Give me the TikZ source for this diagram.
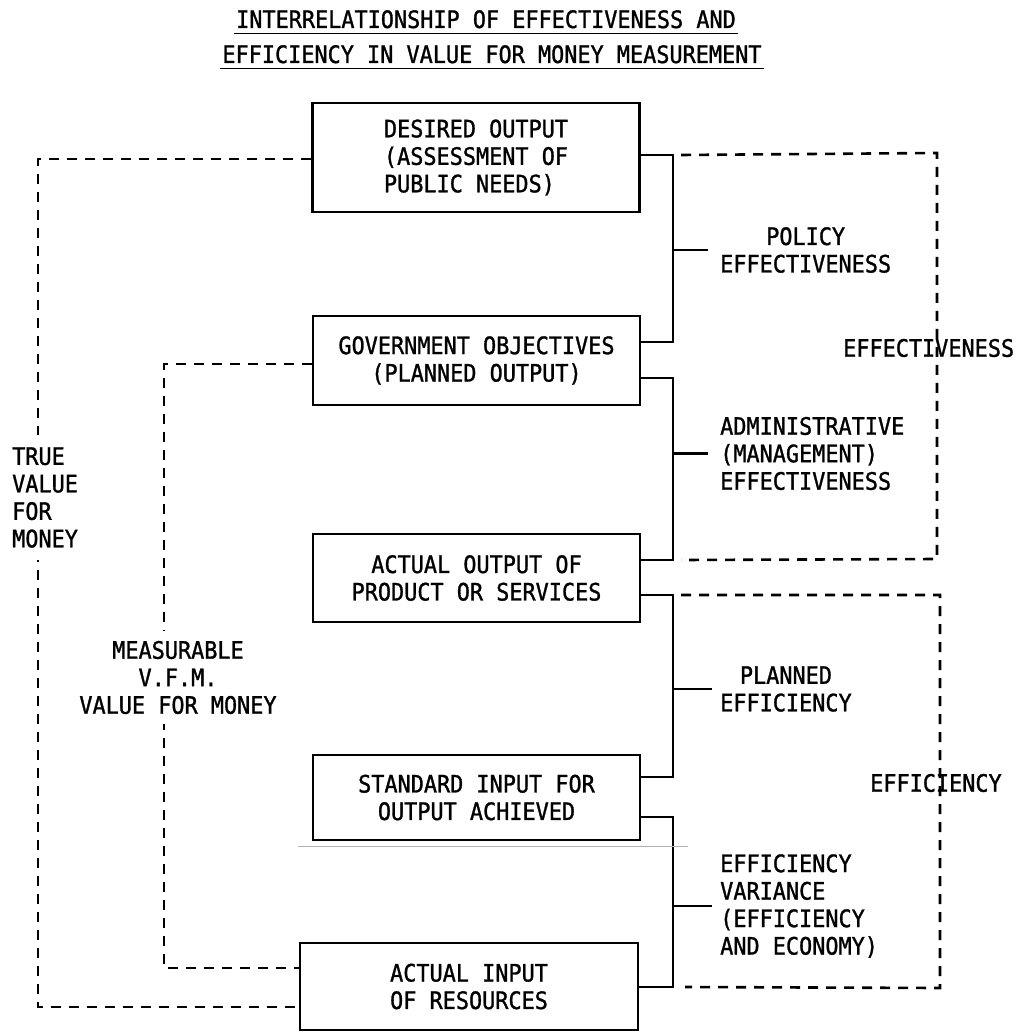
\documentclass[tikz,border=0pt]{standalone}
\usepackage{fontspec}
\newfontfamily\typewriter[FakeStretch=0.91, FakeBold=1.2]{DejaVu Sans Mono}

\tikzset{
  box/.style={draw, line width=2.4pt, minimum width=327pt, inner sep=0pt, align=center},
  bracket/.style={line width=2.2pt},
  vfm/.style={line width=2.6pt, dash pattern=on 10pt off 8pt},
  lbl/.style={inner sep=0pt}
}

\begin{document}
\begin{tikzpicture}[x=1pt, y=-1pt, every node/.style={font=\typewriter\fontsize{24}{27.5}\selectfont}]
  \useasboundingbox (0,0) rectangle (1021,1032);

  % Title
  \node[anchor=base, inner xsep=2pt, inner ysep=5pt] (t1) at (486,28) {INTERRELATIONSHIP OF EFFECTIVENESS AND};
  \draw[line width=1.6pt] (t1.south west) -- (t1.south east);
  \node[anchor=base, inner xsep=2pt, inner ysep=5pt] (t2) at (492,63) {EFFICIENCY IN VALUE FOR MONEY MEASUREMENT};
  \draw[line width=1.6pt] (t2.south west) -- (t2.south east);

  % Boxes
  \node[box, minimum height=109pt, align=left] (b1) at (476,157.5) {DESIRED OUTPUT\\(ASSESSMENT OF\\PUBLIC NEEDS)};
  \node[box, minimum height=89pt] (b2) at (476.5,360.5) {GOVERNMENT OBJECTIVES\\(PLANNED OUTPUT)};
  \node[box, minimum height=88pt] (b3) at (476.5,578) {ACTUAL OUTPUT OF\\PRODUCT OR SERVICES};
  \node[box, minimum height=85pt] (b4) at (476.5,797.5) {STANDARD INPUT FOR\\OUTPUT ACHIEVED};
  \node[box, minimum height=87pt, minimum width=338pt, align=left] (b5) at (469,986.5) {ACTUAL INPUT\\OF RESOURCES};

  % Spine points of the brackets
  \coordinate (s1) at (673,155);
  \coordinate (s2) at (673,342);
  \coordinate (s3) at (673,378);
  \coordinate (s4) at (673,560);
  \coordinate (s5) at (673,595);
  \coordinate (s6) at (673,777);
  \coordinate (s7) at (673,817);
  \coordinate (s8) at (673,987);

  % Brackets
  \draw[bracket] (b1.east |- s1) -- (s1) -- (s2) -- (b2.east |- s2);
  \draw[bracket] (b2.east |- s3) -- (s3) -- (s4) -- (b3.east |- s4);
  \draw[bracket] (b3.east |- s5) -- (s5) -- (s6) -- (b4.east |- s6);
  \draw[bracket] (b4.east |- s7) -- (s7) -- (s8) -- (b5.east |- s8);

  % Bracket labels
  \node[lbl, anchor=west, align=center] (lpolicy) at (720,250) {POLICY\\EFFECTIVENESS};
  \node[lbl, anchor=west, align=left] (ladmin) at (720,453.5) {ADMINISTRATIVE\\(MANAGEMENT)\\EFFECTIVENESS};
  \node[lbl, anchor=west, align=center] (lplanned) at (720,689) {PLANNED\\EFFICIENCY};
  \node[lbl, anchor=west, align=left] (lvariance) at (720,906) {EFFICIENCY\\VARIANCE\\(EFFICIENCY\\AND ECONOMY)};
  \draw[bracket] (lpolicy.west -| s1) -- ([xshift=-12pt]lpolicy.west);
  \draw[bracket] (ladmin.west -| s1) -- ([xshift=-12pt]ladmin.west);
  \draw[bracket] (lplanned.west -| s1) -- ([xshift=-8pt]lplanned.west);
  \draw[bracket] (lvariance.west -| s1) -- ([xshift=-8pt]lvariance.west);

  % Effectiveness and efficiency loops
  \coordinate (ea) at (937,153);
  \coordinate (eb) at (937,559);
  \coordinate (fa) at (940,595);
  \coordinate (fb) at (940,988);
  \draw[vfm] ([xshift=8pt]s1) -- (ea) -- (eb) -- ([xshift=8pt]s4);
  \draw[vfm] ([xshift=8pt]s5) -- (fa) -- (fb) -- ([xshift=12pt]s8);
  \node[lbl, anchor=west] (leffect) at (843,348) {EFFECTIVENESS};
  \node[lbl, anchor=west] (leffic) at (870,783) {EFFICIENCY};

  % Value for money loops
  \coordinate (ta) at (38,159);
  \coordinate (tb) at (38,1007);
  \coordinate (ma) at (164,364);
  \coordinate (mb) at (164,968);
  \draw[vfm] (b1.west |- ta) -- (ta) -- (tb) -- (b5.west |- tb);
  \draw[vfm] (b2.west |- ma) -- (ma) -- (mb) -- (b5.west |- mb);
  \node[lbl, anchor=west, align=left, fill=white, inner ysep=12pt] (ltrue) at (12,497.5) {TRUE\\VALUE\\FOR\\MONEY};
  \node[lbl, align=center, fill=white, inner ysep=10pt] (lmeas) at (178,677.5) {MEASURABLE\\V.F.M.\\VALUE FOR MONEY};

  % Paste-up edge
  \draw[gray!60, line width=0.6pt] (298,846) -- (688,846);
\end{tikzpicture}
\end{document}
